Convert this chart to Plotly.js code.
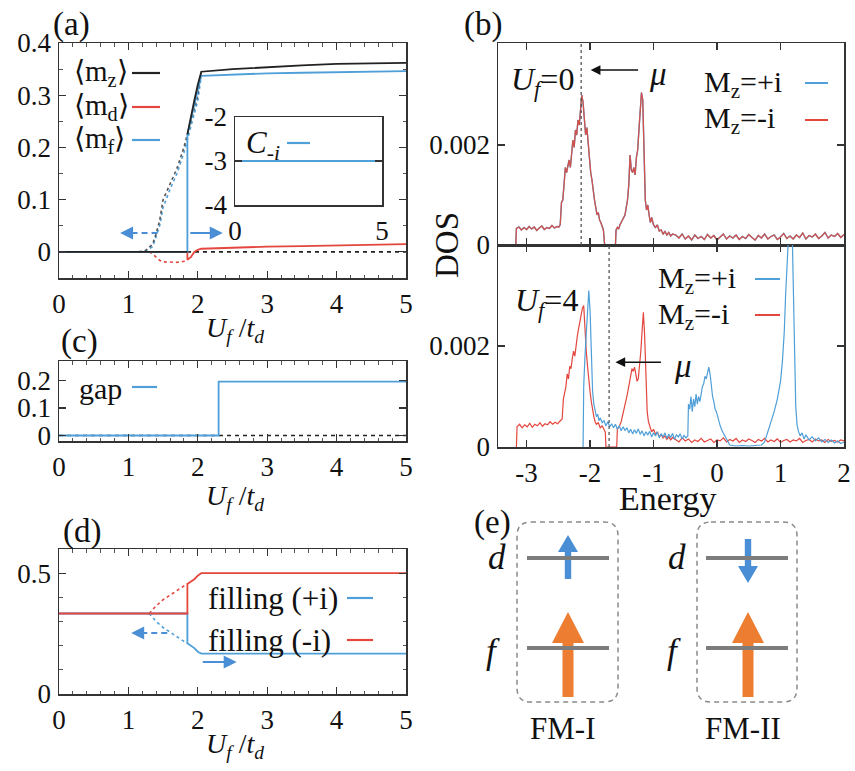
<!DOCTYPE html>
<html><head><meta charset="utf-8">
<script src="https://cdn.plot.ly/plotly-3.0.1.min.js"></script>
<style>html,body{margin:0;padding:0;background:#fff}#chart{width:855px;height:771px}</style>
</head><body><div id="chart"></div>
<script>
// ---------- data: panel (a) magnetisation vs Uf/td ----------
const uStable   = [0, 0.5, 1, 1.5, 1.85, 1.85, 1.85, 1.9, 1.95, 2.0, 2.05, 2.5, 3, 3.5, 4, 4.5, 5];
const mzStable  = [0, 0, 0, 0, 0, null, 0.225, 0.26, 0.29, 0.32, 0.345, 0.35, 0.354, 0.357, 0.36, 0.361, 0.362];
const mfStable  = [0, 0, 0, 0, 0, 0.225, 0.225, 0.255, 0.285, 0.31, 0.337, 0.34, 0.342, 0.343, 0.344, 0.345, 0.346];
const mdStable  = [0, 0, 0, 0, 0, -0.015, -0.015, -0.01, 0.0, 0.004, 0.006, 0.008, 0.01, 0.011, 0.012, 0.014, 0.015];
const uMeta     = [1.15, 1.25, 1.35, 1.4, 1.45, 1.5, 1.6, 1.7, 1.8, 1.9, 2.0, 2.05];
const mzMeta    = [0, 0.003, 0.015, 0.035, 0.06, 0.1, 0.13, 0.16, 0.2, 0.25, 0.3, 0.345];
const mfMeta    = [0, 0.002, 0.01, 0.028, 0.05, 0.085, 0.12, 0.15, 0.19, 0.24, 0.29, 0.337];
const uMdMeta   = [1.3, 1.35, 1.4, 1.45, 1.5, 1.6, 1.7, 1.8, 1.85];
const mdMeta    = [0, -0.004, -0.01, -0.016, -0.019, -0.02, -0.02, -0.018, -0.015];
// inset Chern number
const uC   = [0, 1, 2, 3, 4, 5];
const cVal = [-3, -3, -3, -3, -3, -3];
// ---------- panel (c) gap ----------
const uGap = [0, 0.5, 1, 1.5, 2, 2.3, 2.3, 2.5, 3, 3.5, 4, 4.5, 5];
const gap  = [0, 0, 0, 0, 0, 0, 0.195, 0.195, 0.195, 0.195, 0.195, 0.195, 0.195];
// ---------- panel (d) filling ----------
const uFill      = [0, 0.5, 1, 1.5, 1.85, 1.85, 1.9, 1.95, 2.0, 2.05, 2.5, 3, 3.5, 4, 4.5, 5];
const fillMinus  = [0.333, 0.333, 0.333, 0.333, 0.333, 0.455, 0.465, 0.475, 0.49, 0.5, 0.5, 0.5, 0.5, 0.5, 0.5, 0.5];
const fillPlus   = [0.333, 0.333, 0.333, 0.333, 0.333, 0.21, 0.2, 0.19, 0.175, 0.167, 0.167, 0.167, 0.167, 0.167, 0.167, 0.167];
const uFillMeta  = [1.3, 1.4, 1.5, 1.6, 1.7, 1.8, 1.85];
const fillMinusMeta = [0.333, 0.365, 0.39, 0.41, 0.43, 0.447, 0.455];
const fillPlusMeta  = [0.333, 0.3, 0.275, 0.255, 0.235, 0.218, 0.21];
// ---------- panel (b) DOS (values in units of 1e-3) ----------
const eTop = [-3.17,-3.16,-3.12,-3.08,-3.04,-3.00,-2.96,-2.92,-2.88,-2.84,
 -2.80,-2.76,-2.72,-2.68,-2.64,-2.60,-2.56,-2.52,-2.49,-2.47,
 -2.45,-2.43,-2.41,-2.39,-2.37,-2.35,-2.33,-2.31,-2.29,-2.27,
 -2.25,-2.23,-2.21,-2.19,-2.17,-2.15,-2.13,-2.11,-2.09,-2.07,
 -2.05,-2.03,-2.01,-1.99,-1.97,-1.95,-1.93,-1.91,-1.89,-1.87,
 -1.85,-1.83,-1.81,-1.79,-1.78,-1.77,-1.60,-1.59,-1.57,-1.55,
 -1.53,-1.51,-1.49,-1.47,-1.45,-1.43,-1.41,-1.39,-1.37,-1.35,
 -1.33,-1.31,-1.29,-1.27,-1.25,-1.23,-1.21,-1.19,-1.17,-1.15,
 -1.13,-1.11,-1.09,-1.07,-1.05,-1.03,-1.00,-0.97,-0.94,-0.91,
 -0.88,-0.85,-0.82,-0.79,-0.76,-0.73,-0.70,
 -0.65,-0.60,-0.55,-0.50,-0.45,-0.40,-0.35,-0.30,-0.25,-0.20,
 -0.15,-0.10,-0.05,0,0.05,0.10,0.15,0.20,0.25,0.30,
 0.35,0.40,0.45,0.50,0.55,0.60,0.65,0.70,0.75,0.80,
 0.85,0.90,0.95,1.00,1.05,1.10,1.15,1.20,1.25,1.30,
 1.35,1.40,1.45,1.50,1.55,1.60,1.65,1.70,1.75,1.80,
 1.85,1.90,1.95,2.00];
const dosTop = [0,0.33,0.36,0.30,0.35,0.31,0.37,0.32,0.36,0.29,
 0.34,0.38,0.31,0.35,0.33,0.39,0.34,0.37,0.36,0.41,
 0.85,0.90,1.20,1.55,1.45,1.60,1.70,1.55,1.80,2.10,
 1.95,2.30,2.20,2.50,2.40,2.75,3.00,2.85,2.40,2.20,
 2.35,2.00,1.70,1.45,1.30,1.05,0.90,0.75,0.60,0.65,
 0.50,0.45,0.35,0.30,0.15,0,0,0.30,0.35,0.32,
 0.40,0.45,0.50,0.55,0.60,0.75,0.90,1.20,1.80,1.50,
 1.45,1.55,1.40,1.75,1.90,2.30,2.70,3.05,2.90,1.60,
 0.90,0.70,0.80,0.60,0.45,0.55,0.40,0.35,0.40,0.28,
 0.30,0.22,0.27,0.20,0.25,0.18,0.22,
 0.20,0.14,0.22,0.12,0.18,0.10,0.20,0.13,0.17,0.11,
 0.21,0.14,0.19,0.10,0.16,0.22,0.12,0.18,0.14,0.20,
 0.11,0.17,0.13,0.21,0.15,0.10,0.19,0.14,0.22,0.12,
 0.17,0.20,0.11,0.16,0.23,0.13,0.18,0.12,0.20,0.15,
 0.24,0.12,0.19,0.16,0.22,0.13,0.18,0.25,0.14,0.20,
 0.17,0.23,0.15,0.21];
const eBotMinus = [-3.16,-3.15,-3.11,-3.07,-3.03,-2.99,-2.95,-2.91,-2.87,-2.83,
 -2.79,-2.75,-2.71,-2.67,-2.63,-2.59,-2.55,-2.51,-2.47,-2.44,
 -2.42,-2.40,-2.38,-2.36,-2.34,-2.32,-2.30,-2.28,-2.26,-2.24,
 -2.22,-2.20,-2.18,-2.16,-2.14,-2.12,-2.10,-2.08,-2.06,-2.04,
 -2.02,-2.00,-1.98,-1.96,-1.94,-1.92,-1.90,-1.87,-1.84,-1.81,
 -1.78,-1.76,-1.75,-1.58,-1.57,-1.54,-1.51,-1.48,-1.45,-1.42,
 -1.39,-1.36,-1.34,-1.32,-1.30,-1.28,-1.26,-1.24,-1.22,-1.20,
 -1.18,-1.16,-1.14,-1.12,-1.10,-1.08,-1.06,-1.03,-1.00,-0.97,
 -0.94,-0.91,-0.88,-0.85,-0.82,-0.79,-0.76,-0.73,-0.70,
 -0.65,-0.60,-0.55,-0.50,-0.45,-0.40,-0.35,-0.30,-0.25,-0.20,
 -0.15,-0.10,-0.05,0,0.05,0.10,0.15,0.20,0.25,0.30,
 0.35,0.40,0.45,0.50,0.55,0.60,0.65,0.70,0.75,0.80,
 0.85,0.90,0.95,1.00,1.05,1.10,1.15,1.20,1.25,1.30,
 1.35,1.40,1.45,1.50,1.55,1.60,1.65,1.70,1.75,1.80,
 1.85,1.90,1.95,2.00];
const dosBotMinus = [0,0.40,0.45,0.38,0.44,0.40,0.47,0.39,0.45,0.42,
 0.48,0.41,0.46,0.44,0.50,0.45,0.49,0.46,0.52,0.55,
 0.95,1.05,1.20,1.45,1.35,1.60,1.55,1.75,1.90,1.80,
 2.05,2.20,2.35,2.50,2.65,2.75,2.80,2.30,1.90,1.60,
 1.30,1.10,0.90,0.70,0.60,0.50,0.45,0.48,0.38,0.42,
 0.35,0.30,0,0,0.35,0.40,0.50,0.65,0.80,1.00,
 1.20,1.45,1.55,1.50,1.58,1.45,1.30,1.35,1.60,1.90,
 2.30,2.67,2.20,1.20,0.70,0.50,0.40,0.30,0.35,0.25,
 0.30,0.20,0.25,0.18,0.22,0.15,0.20,0.14,0.19,
 0.15,0.10,0.18,0.12,0.16,0.09,0.14,0.11,0.17,0.10,
 0.13,0.16,0.09,0.14,0.12,0.18,0.10,0.15,0.12,0.17,
 0.09,0.14,0.11,0.16,0.13,0.09,0.15,0.12,0.17,0.10,
 0.14,0.11,0.16,0.09,0.13,0.15,0.10,0.14,0.12,0.17,
 0.09,0.13,0.15,0.10,0.16,0.12,0.14,0.09,0.15,0.11,
 0.13,0.10,0.14,0.12];
const eBotPlus = [-2.11,-2.10,-2.08,-2.06,-2.04,-2.02,-2.00,-1.98,-1.96,-1.94,
 -1.92,-1.90,-1.88,-1.86,-1.84,-1.81,-1.78,-1.75,-1.72,-1.69,
 -1.66,-1.63,-1.60,-1.57,-1.54,-1.51,-1.48,-1.45,-1.42,-1.39,
 -1.36,-1.33,-1.30,-1.27,-1.24,-1.21,-1.18,-1.15,-1.12,-1.09,
 -1.06,-1.03,-1.00,-0.97,-0.94,-0.91,-0.88,-0.85,-0.82,-0.79,
 -0.76,-0.73,-0.70,-0.67,-0.64,-0.61,-0.58,-0.55,-0.52,-0.49,
 -0.46,-0.45,-0.43,-0.41,-0.39,-0.37,-0.35,-0.33,-0.31,-0.29,
 -0.27,-0.25,-0.23,-0.21,-0.19,-0.17,-0.15,-0.13,-0.11,-0.09,
 -0.07,-0.05,-0.03,-0.01,0.01,0.03,0.05,0.08,0.11,0.14,
 0.17,0.20,0.30,0.40,0.50,0.60,0.70,0.75,0.80,0.85,
 0.90,0.95,1.00,1.03,1.06,1.08,1.10,1.12,1.15,1.18,
 1.20,1.22,1.24,1.26,1.28,1.31,1.34,1.37,1.40,1.45,
 1.50,1.55,1.60,1.65,1.70,1.75,1.80,1.85,1.90,1.95,2.00];
const dosBotPlus = [0,1.20,1.80,2.30,2.60,3.10,2.70,1.70,1.10,0.85,
 0.70,0.60,0.65,0.52,0.58,0.48,0.52,0.42,0.50,0.40,
 0.46,0.38,0.45,0.35,0.42,0.32,0.40,0.33,0.38,0.28,
 0.35,0.26,0.34,0.27,0.36,0.25,0.32,0.22,0.30,0.24,
 0.31,0.20,0.28,0.22,0.30,0.18,0.26,0.20,0.28,0.17,
 0.25,0.19,0.27,0.15,0.24,0.20,0.26,0.16,0.23,0.18,
 0.22,0.85,0.75,1.00,0.70,0.95,0.80,1.05,0.85,1.00,
 0.90,1.10,1.20,1.25,1.40,1.35,1.50,1.58,1.45,1.20,
 1.00,0.90,0.75,0.70,0.60,0.50,0.42,0.32,0.25,0.15,
 0.08,0.04,0.02,0.03,0.02,0.03,0.04,0.10,0.30,0.50,
 0.70,0.95,1.30,1.70,2.30,3.00,3.80,4.50,4.80,4.50,
 3.20,1.60,0.80,0.45,0.32,0.22,0.28,0.16,0.24,0.14,
 0.20,0.12,0.18,0.10,0.15,0.09,0.14,0.08,0.12,0.07,0.10];
const muTop = -2.14, muBot = -1.70;
const xTicksB = [-3, -2, -1, 0, 1, 2];
const xTickTextB = ['-3', '-2', '-1', '0', '1', '2'];

// ---------- style ----------
const FONT = 'Liberation Serif';
const BLUE = '#4f9fd8', RED = '#e3473e', BLK = '#222', ARB = '#4a8fd6', ORANGE = '#ed7d31', GRAY = '#7d7d7d';
const W = 855, H = 771;
const px = v => v / W, py = v => 1 - v / H;
const milli = a => a.map(v => v * 1e-3);

function ax(extra) {
  return Object.assign({
    showline: true, mirror: 'ticks', linecolor: '#333', linewidth: 1.5,
    ticks: 'inside', ticklen: 7, tickwidth: 1.2, tickcolor: '#333',
    showgrid: false, zeroline: false, fixedrange: true, ticklabelstandoff: 1,
    tickfont: {family: FONT, size: 27, color: '#111'}
  }, extra);
}
const minorU = {ticks: 'inside', ticklen: 3.5, dtick: 0.2, tickcolor: '#555', tickwidth: 1};

const traces = [
  // panel (a)
  {x: uMdMeta, y: mdMeta, xaxis: 'x', yaxis: 'y', mode: 'lines', line: {color: RED, width: 1.6, dash: 'dot'}},
  {x: uMeta, y: mfMeta, xaxis: 'x', yaxis: 'y', mode: 'lines', line: {color: BLUE, width: 1.6, dash: 'dot'}},
  {x: uMeta, y: mzMeta, xaxis: 'x', yaxis: 'y', mode: 'lines', line: {color: '#555', width: 1.6, dash: 'dot'}},
  {x: uStable, y: mdStable, xaxis: 'x', yaxis: 'y', mode: 'lines', line: {color: RED, width: 1.8}},
  {x: uStable, y: mfStable, xaxis: 'x', yaxis: 'y', mode: 'lines', line: {color: BLUE, width: 1.8}},
  {x: uStable, y: mzStable, xaxis: 'x', yaxis: 'y', mode: 'lines', line: {color: BLK, width: 1.8}, connectgaps: false},
  // inset
  {x: uC, y: cVal, xaxis: 'x2', yaxis: 'y2', mode: 'lines', line: {color: BLUE, width: 1.8}},
  // panel (c)
  {x: uGap, y: gap, xaxis: 'x3', yaxis: 'y3', mode: 'lines', line: {color: BLUE, width: 1.8}},
  // panel (d)
  {x: uFillMeta, y: fillPlusMeta, xaxis: 'x4', yaxis: 'y4', mode: 'lines', line: {color: BLUE, width: 1.6, dash: 'dot'}},
  {x: uFillMeta, y: fillMinusMeta, xaxis: 'x4', yaxis: 'y4', mode: 'lines', line: {color: RED, width: 1.6, dash: 'dot'}},
  {x: uFill, y: fillPlus, xaxis: 'x4', yaxis: 'y4', mode: 'lines', line: {color: BLUE, width: 1.8}},
  {x: uFill, y: fillMinus, xaxis: 'x4', yaxis: 'y4', mode: 'lines', line: {color: RED, width: 1.8}},
  // panel (b) top: both sectors coincide
  {x: eTop, y: milli(dosTop), xaxis: 'x5', yaxis: 'y5', mode: 'lines', line: {color: BLUE, width: 1.4}},
  {x: eTop, y: milli(dosTop), xaxis: 'x5', yaxis: 'y5', mode: 'lines', line: {color: '#d2524b', width: 1.3}},
  // panel (b) bottom
  {x: eBotMinus, y: milli(dosBotMinus), xaxis: 'x6', yaxis: 'y6', mode: 'lines', line: {color: RED, width: 1.2}},
  {x: eBotPlus, y: milli(dosBotPlus), xaxis: 'x6', yaxis: 'y6', mode: 'lines', line: {color: BLUE, width: 1.2}}
];
traces.forEach(t => { t.showlegend = false; t.hoverinfo = 'skip'; });

// ---------- annotations ----------
const A = [];
function txt(text, x, y, size, opt) {
  A.push(Object.assign({text: text, x: px(x), y: py(y), xref: 'paper', yref: 'paper', showarrow: false,
    xanchor: 'center', yanchor: 'middle',
    font: {family: FONT, size: size, color: '#111'}}, opt || {}));
}
txt('(a)', 71, 24, 33); txt('(b)', 483, 24, 33); txt('(c)', 79, 341, 33); txt('(d)', 82, 531, 33); txt('(e)', 492, 522, 33);
const UT = '<i>U<sub>f</sub></i> /<i>t<sub>d</sub></i>';
txt(UT, 235, 329, 28); txt(UT, 235, 497, 28); txt(UT, 235, 745, 28);
txt('DOS', 447, 245, 33, {textangle: -90});
txt('Energy', 668, 498, 34);
// legends panel (a)
txt('⟨m<sub>z</sub>⟩', 72, 73, 29, {xanchor: 'left'});
txt('⟨m<sub>d</sub>⟩', 72, 107, 29, {xanchor: 'left'});
txt('⟨m<sub>f</sub>⟩', 72, 140, 29, {xanchor: 'left'});
txt('<i>C<sub>-i</sub></i>', 244, 145, 31, {xanchor: 'left'});
txt('gap', 77, 388, 30, {xanchor: 'left'});
txt('filling (+i)', 206, 598, 31, {xanchor: 'left'});
txt('filling (-i)', 206, 640, 31, {xanchor: 'left'});
// panel (b) texts
txt('<i>U<sub>f</sub></i>=0', 542, 82, 32);
txt('<i>U<sub>f</sub></i>=4', 546, 303, 32);
txt('M<sub>z</sub>=+i', 702, 84, 30, {xanchor: 'left'});
txt('M<sub>z</sub>=-i', 702, 120, 30, {xanchor: 'left'});
txt('M<sub>z</sub>=+i', 656, 280, 30, {xanchor: 'left'});
txt('M<sub>z</sub>=-i', 656, 316, 30, {xanchor: 'left'});
txt('<i>μ</i>', 658, 74, 33);
txt('<i>μ</i>', 683, 366, 33);
// panel (e) texts
txt('<i>d</i>', 497, 557, 35); txt('<i>f</i>', 493, 651, 35);
txt('<i>d</i>', 677, 557, 35); txt('<i>f</i>', 674, 651, 35);
txt('FM-I', 562, 728, 31); txt('FM-II', 743, 728, 31);

function arrow(xr, yr, x, y, axv, color, w) {
  A.push({xref: xr, yref: yr, axref: xr, ayref: yr, x: x, y: y, ax: axv, ay: y, text: '', showarrow: true,
    arrowhead: 2, arrowsize: 1.3, arrowwidth: w, arrowcolor: color, standoff: 0, startstandoff: 0});
}
arrow('x', 'y', 2.36, 0.036, 1.87, ARB, 2);
arrow('x', 'y', 0.88, 0.036, 1.0, ARB, 2);
arrow('x4', 'y4', 2.56, 0.132, 2.05, ARB, 2);
arrow('x4', 'y4', 1.04, 0.252, 1.16, ARB, 2);
arrow('x5', 'y5', -1.99, 0.0035, -1.22, '#111', 1.5);
arrow('x6', 'y6', -1.60, 0.00168, -0.86, '#111', 1.5);

// ---------- shapes ----------
const S = [];
function pline(x0, y0, x1, y1, color, width, dash) {
  S.push({type: 'line', xref: 'paper', yref: 'paper', x0: px(x0), y0: py(y0), x1: px(x1), y1: py(y1),
    line: {color: color, width: width, dash: dash || 'solid'}});
}
// zero reference lines
S.push({type: 'line', xref: 'x', yref: 'y', x0: 0, x1: 5, y0: 0, y1: 0, layer: 'below', line: {color: '#222', width: 1.6, dash: '4px,4px'}});
S.push({type: 'line', xref: 'x3', yref: 'y3', x0: 0, x1: 5, y0: 0, y1: 0, layer: 'below', line: {color: '#222', width: 1.6, dash: '4px,4px'}});
// dashed arrow shafts
S.push({type: 'line', xref: 'x', yref: 'y', x0: 1.42, x1: 0.98, y0: 0.036, y1: 0.036, line: {color: ARB, width: 2, dash: '6px,4px'}});
S.push({type: 'line', xref: 'x4', yref: 'y4', x0: 1.56, x1: 1.14, y0: 0.252, y1: 0.252, line: {color: ARB, width: 2, dash: '6px,4px'}});
// chemical potential lines
S.push({type: 'line', xref: 'x5', yref: 'y5 domain', x0: muTop, x1: muTop, y0: 0, y1: 1, line: {color: '#555', width: 1.3, dash: 'dot'}});
S.push({type: 'line', xref: 'x6', yref: 'y6 domain', x0: muBot, x1: muBot, y0: 0, y1: 1, line: {color: '#555', width: 1.3, dash: 'dot'}});
// legend samples
pline(132, 73, 160, 73, BLK, 2.2); pline(132, 107, 160, 107, RED, 2.2); pline(132, 140, 160, 140, BLUE, 2.2);
pline(287, 143, 310, 143, BLUE, 2.2);
pline(132, 387, 157, 387, BLUE, 2.2);
pline(347, 598, 373, 598, BLUE, 2.2); pline(347, 640, 373, 640, RED, 2.2);
pline(805, 83, 828, 83, BLUE, 2); pline(805, 120, 828, 120, RED, 2);
pline(755, 279, 780, 279, BLUE, 2); pline(755, 315, 780, 315, RED, 2);

// panel (e) schematic
function P(x, y) { return px(x).toFixed(5) + ',' + py(y).toFixed(5); }
function roundRect(x0, y0, x1, y1, r) {
  return 'M' + P(x0 + r, y0) + ' L' + P(x1 - r, y0) + ' Q' + P(x1, y0) + ' ' + P(x1, y0 + r) +
    ' L' + P(x1, y1 - r) + ' Q' + P(x1, y1) + ' ' + P(x1 - r, y1) +
    ' L' + P(x0 + r, y1) + ' Q' + P(x0, y1) + ' ' + P(x0, y1 - r) +
    ' L' + P(x0, y0 + r) + ' Q' + P(x0, y0) + ' ' + P(x0 + r, y0) + ' Z';
}
function arrowPath(cx, yTail, yTip, sh, hh, hl) {
  const dir = yTip < yTail ? 1 : -1;
  const yb = yTip + dir * hl;
  return 'M' + P(cx - sh, yTail) + ' L' + P(cx - sh, yb) + ' L' + P(cx - hh, yb) + ' L' + P(cx, yTip) +
    ' L' + P(cx + hh, yb) + ' L' + P(cx + sh, yb) + ' L' + P(cx + sh, yTail) + ' Z';
}
S.push({type: 'path', xref: 'paper', yref: 'paper', path: roundRect(517, 522, 618, 702, 14), line: {color: '#8a8a8a', width: 1.5, dash: '5px,4px'}});
S.push({type: 'path', xref: 'paper', yref: 'paper', path: roundRect(697, 522, 797, 702, 14), line: {color: '#8a8a8a', width: 1.5, dash: '5px,4px'}});
S.push({type: 'path', xref: 'paper', yref: 'paper', path: arrowPath(568, 579, 535, 3.2, 10, 17), fillcolor: ARB, line: {width: 0}});
S.push({type: 'path', xref: 'paper', yref: 'paper', path: arrowPath(748, 539, 583, 3.2, 10, 17), fillcolor: ARB, line: {width: 0}});
S.push({type: 'path', xref: 'paper', yref: 'paper', path: arrowPath(568, 697, 612, 5.5, 16, 31), fillcolor: ORANGE, line: {width: 0}});
S.push({type: 'path', xref: 'paper', yref: 'paper', path: arrowPath(748, 697, 612, 5.5, 16, 31), fillcolor: ORANGE, line: {width: 0}});
pline(527, 558, 609, 558, GRAY, 4); pline(527, 648, 609, 648, GRAY, 4);
pline(706, 558, 788, 558, GRAY, 4); pline(706, 648, 788, 648, GRAY, 4);

const xdomA = [px(59), px(406)], xdomB = [px(498), px(844)];
const layout = {
  width: W, height: H, margin: {l: 0, r: 0, t: 0, b: 0},
  paper_bgcolor: '#fff', plot_bgcolor: '#fff', showlegend: false,
  font: {family: FONT, color: '#111'},
  xaxis: ax({domain: xdomA, range: [0, 5], tickvals: [0, 1, 2, 3, 4, 5], anchor: 'y', minor: minorU}),
  yaxis: ax({domain: [py(278), py(43)], range: [-0.05, 0.4], tickvals: [0, 0.1, 0.2, 0.3, 0.4], anchor: 'x',
    minor: {ticks: 'inside', ticklen: 3.5, dtick: 0.05, tickcolor: '#555', tickwidth: 1}}),
  xaxis2: ax({domain: [px(235), px(382)], range: [0, 5], tickvals: [0, 5], anchor: 'y2'}),
  yaxis2: ax({domain: [py(205), py(117)], range: [-4, -2], tickvals: [-4, -3, -2], ticktext: ['-4', '-3', '-2'], anchor: 'x2'}),
  xaxis3: ax({domain: xdomA, range: [0, 5], tickvals: [0, 1, 2, 3, 4, 5], anchor: 'y3', minor: minorU}),
  yaxis3: ax({domain: [py(441), py(361)], range: [-0.02, 0.27], tickvals: [0, 0.1, 0.2], anchor: 'x3'}),
  xaxis4: ax({domain: xdomA, range: [0, 5], tickvals: [0, 1, 2, 3, 4, 5], anchor: 'y4', minor: minorU}),
  yaxis4: ax({domain: [py(694), py(549)], range: [0, 0.6], tickvals: [0, 0.5], anchor: 'x4',
    minor: {ticks: 'inside', ticklen: 3.5, dtick: 0.1, tickcolor: '#555', tickwidth: 1}}),
  xaxis5: ax({domain: xdomB, range: [-3.45, 2], tickvals: xTicksB, showticklabels: false, anchor: 'y5'}),
  yaxis5: ax({domain: [py(245), py(43)], range: [0, 0.00404], tickvals: [0, 0.002], ticktext: ['0', '0.002'], anchor: 'x5'}),
  xaxis6: ax({domain: xdomB, range: [-3.45, 2], tickvals: xTicksB, ticktext: xTickTextB, anchor: 'y6'}),
  yaxis6: ax({domain: [py(447), py(245)], range: [0, 0.004], tickvals: [0, 0.002], ticktext: ['0', '0.002'], anchor: 'x6'}),
  annotations: A, shapes: S
};
Plotly.newPlot('chart', traces, layout, {staticPlot: true, displayModeBar: false});
</script></body></html>
